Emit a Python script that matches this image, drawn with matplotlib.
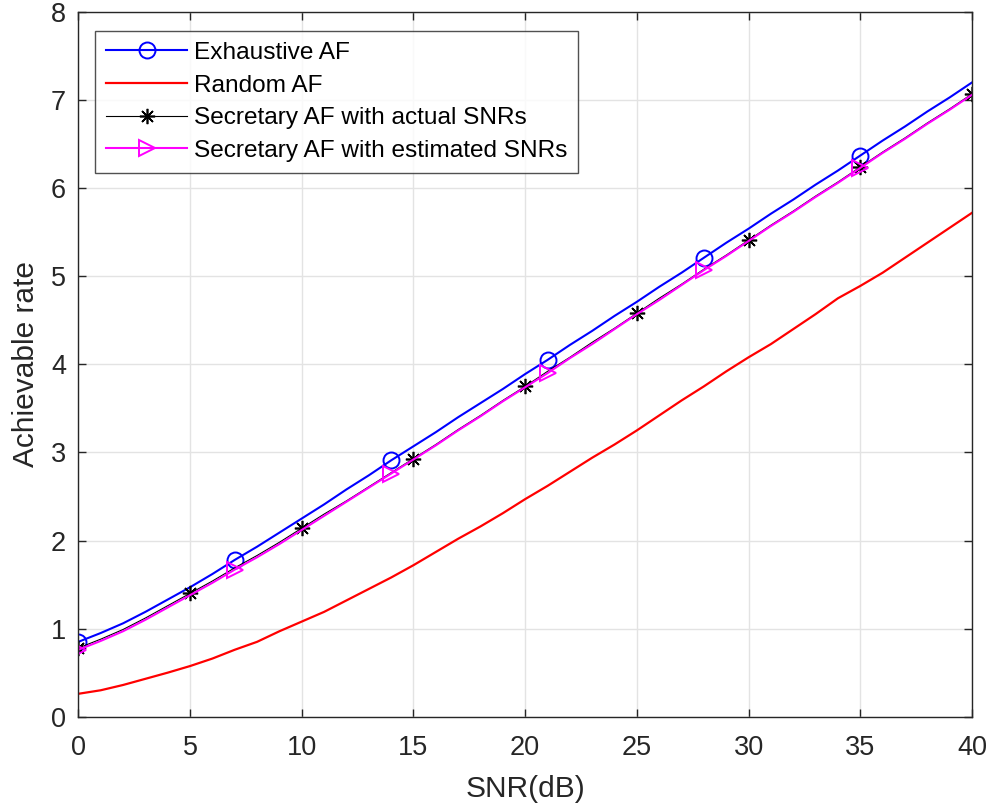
import numpy as np
import matplotlib
matplotlib.use("Agg")
import matplotlib.pyplot as plt

plt.rcParams['font.family'] = ['Liberation Sans', 'DejaVu Sans']

snr_db = np.arange(0, 41)

exhaustive_af = [0.85, 0.95, 1.06, 1.19, 1.33, 1.47, 1.62, 1.78, 1.93, 2.09,
                 2.25, 2.41, 2.58, 2.74, 2.91, 3.07, 3.23, 3.40, 3.56, 3.72,
                 3.89, 4.05, 4.22, 4.38, 4.55, 4.71, 4.88, 5.04, 5.21, 5.38,
                 5.54, 5.71, 5.87, 6.04, 6.20, 6.37, 6.54, 6.70, 6.87, 7.03,
                 7.20]

random_af = [0.26, 0.30, 0.36, 0.43, 0.50, 0.575, 0.66, 0.76, 0.85, 0.97,
             1.08, 1.19, 1.32, 1.45, 1.58, 1.72, 1.87, 2.02, 2.16, 2.31,
             2.47, 2.62, 2.78, 2.94, 3.09, 3.25, 3.42, 3.59, 3.75, 3.92,
             4.08, 4.23, 4.40, 4.57, 4.75, 4.89, 5.04, 5.21, 5.38, 5.55,
             5.72]

secretary_actual = [0.78, 0.88, 0.99, 1.12, 1.26, 1.40, 1.54, 1.69, 1.83, 1.98,
                    2.14, 2.30, 2.45, 2.61, 2.77, 2.93, 3.09, 3.26, 3.42, 3.59,
                    3.75, 3.92, 4.08, 4.25, 4.41, 4.58, 4.75, 4.91, 5.08, 5.24,
                    5.41, 5.58, 5.74, 5.91, 6.07, 6.24, 6.41, 6.57, 6.74, 6.90,
                    7.07]

secretary_estimated = [0.76, 0.86, 0.97, 1.10, 1.24, 1.38, 1.52, 1.67, 1.81, 1.96,
                       2.12, 2.28, 2.44, 2.60, 2.76, 2.92, 3.08, 3.25, 3.41, 3.58,
                       3.74, 3.90, 4.07, 4.23, 4.40, 4.57, 4.73, 4.90, 5.07, 5.23,
                       5.40, 5.57, 5.73, 5.90, 6.06, 6.23, 6.40, 6.56, 6.73, 6.89,
                       7.06]

labels = ['Exhaustive AF', 'Random AF', 'Secretary AF with actual SNRs',
          'Secretary AF with estimated SNRs']

fig = plt.figure(figsize=(9.91, 8.05), dpi=100)
ax = fig.add_axes([0.0791, 0.1097, 0.9017, 0.8754])

# matlab-style asterisk: plus and cross overlaid
asterisk = (8, 2, 0)
ax.plot(snr_db, exhaustive_af, color='#0000ff', lw=1.5, marker='o', ms=11.5,
        mfc='none', mew=1.4, markevery=7, label=labels[0])
ax.plot(snr_db, random_af, color='#ff0000', lw=1.6, label=labels[1])
ax.plot(snr_db, secretary_actual, color='black', lw=0.8, marker=asterisk, ms=11,
        mew=1.2, markevery=5, label=labels[2])
ax.plot(snr_db, secretary_estimated, color='#ff00ff', lw=1.5, marker='>', ms=12,
        mfc='none', mew=1.4, markevery=7, label=labels[3])

ax.set_xlim(0, 40)
ax.set_ylim(0, 8)
ax.set_xticks(np.arange(0, 41, 5))
ax.set_yticks(np.arange(0, 9, 1))
ax.grid(True, color='#e3e3e3', lw=1.0)
ax.set_axisbelow(True)

for side in ax.spines.values():
    side.set_color('#262626')
    side.set_linewidth(1.0)
ax.tick_params(direction='in', length=6, width=1.0, colors='#262626',
               labelsize=19.5, top=True, right=True)
ax.tick_params(axis='x', pad=13)
ax.tick_params(axis='y', pad=9)

ax.set_xlabel('SNR(dB)', fontsize=21.5, color='#262626', labelpad=10)
ax.set_ylabel('Achievable rate', fontsize=21.5, color='#262626', labelpad=8)

leg = ax.legend(loc='upper left', bbox_to_anchor=(0.0186, 0.9735), fontsize=17.6,
                frameon=True, fancybox=False, borderaxespad=0, handlelength=3.3,
                handletextpad=0.27, labelspacing=0.43, borderpad=0.46)
leg.get_frame().set_edgecolor('#262626')
leg.get_frame().set_linewidth(1.0)
for t in leg.get_texts():
    t.set_color('black')

fig.savefig('out.png', dpi=100)
